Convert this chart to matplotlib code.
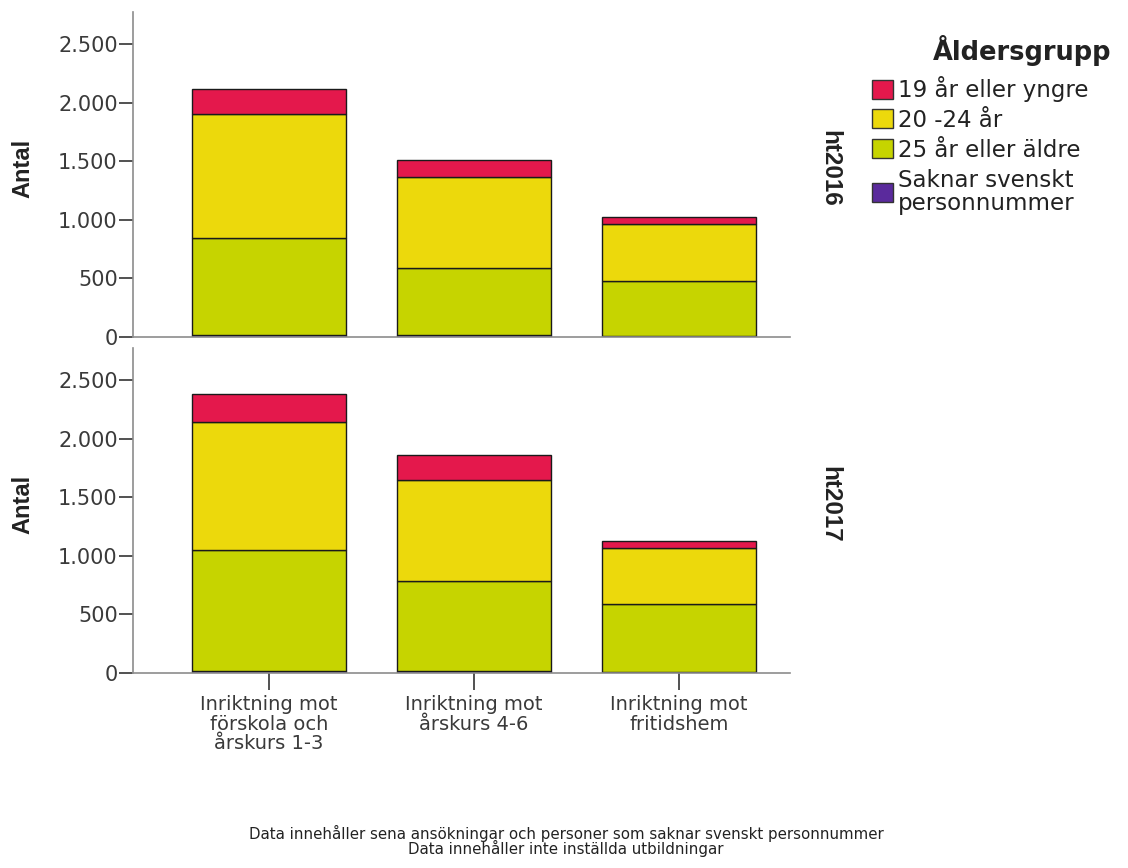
import matplotlib

matplotlib.use("Agg")
import matplotlib.pyplot as plt
import numpy as np
from matplotlib.patches import Patch
from matplotlib.ticker import FuncFormatter, MultipleLocator

plt.rcParams["font.family"] = ["DejaVu Sans"]

categories = [
    "Inriktning mot\nförskola och\nårskurs 1-3",
    "Inriktning mot\nårskurs 4-6",
    "Inriktning mot\nfritidshem",
]
years = ["ht2016", "ht2017"]
groups = ["19 år eller yngre", "20 -24 år", "25 år eller äldre", "Saknar svenskt\npersonnummer"]

# counts per year, stacked from the bottom: missing id, 25+, 20-24, <=19
saknar = {"ht2016": [20, 15, 5], "ht2017": [20, 15, 5]}
age_25_plus = {"ht2016": [825, 574, 473], "ht2017": [1029, 770, 584]}
age_20_24 = {"ht2016": [1058, 776, 486], "ht2017": [1093, 862, 478]}
age_19_under = {"ht2016": [213, 145, 60], "ht2017": [239, 213, 59]}

COLORS = {
    "19 år eller yngre": "#e4184c",
    "20 -24 år": "#ecd90c",
    "25 år eller äldre": "#c6d400",
    "Saknar svenskt\npersonnummer": "#5a2a9c",
}
AXIS_GRAY = "#8c8c8c"
TEXT = "#222222"
TICK_TEXT = "#3a3a3a"
BOLD_FONT = ["Liberation Sans", "DejaVu Sans"]


def thousands(v, _):
    return f"{int(v):,}".replace(",", ".")


fig = plt.figure(figsize=(11.28, 8.68), dpi=100)
fig.patch.set_facecolor("white")

# pixel layout of the reference: x axis 133..790, panels 12..337 and 348..673
left, width = 133 / 1128, (790 - 133) / 1128
panels = [
    fig.add_axes([left, 1 - 337 / 868, width, (337 - 12) / 868]),
    fig.add_axes([left, 1 - 673 / 868, width, (673 - 348) / 868]),
]

x = np.arange(len(categories))
for ax, yr in zip(panels, years):
    layers = [
        ("Saknar svenskt\npersonnummer", saknar[yr]),
        ("25 år eller äldre", age_25_plus[yr]),
        ("20 -24 år", age_20_24[yr]),
        ("19 år eller yngre", age_19_under[yr]),
    ]
    bottom = np.zeros(len(categories))
    for name, vals in layers:
        vals = np.array(vals, dtype=float)
        ax.bar(x, vals, 0.75, bottom=bottom, color=COLORS[name],
               edgecolor="#1a1a1a", linewidth=1.0)
        bottom += vals

    ax.set_xlim(-0.663, 2.541)
    ax.set_ylim(0, 2773)
    ax.yaxis.set_major_locator(MultipleLocator(500))
    ax.yaxis.set_major_formatter(FuncFormatter(thousands))
    for s in ("top", "right"):
        ax.spines[s].set_visible(False)
    for s in ("left", "bottom"):
        ax.spines[s].set_color(AXIS_GRAY)
        ax.spines[s].set_linewidth(1.2)
    ax.tick_params(axis="y", length=10, width=1.2, color="#333333",
                   labelsize=15, labelcolor=TICK_TEXT, pad=1)
    ax.set_ylabel("Antal", fontsize=17, fontweight="bold", color=TEXT, family=BOLD_FONT)
    ax.yaxis.set_label_coords(-0.15, 0.52)
    ax.text(1.043, 0.52, yr, transform=ax.transAxes, rotation=-90,
            ha="left", va="center", fontsize=17.5, fontweight="bold",
            color=TEXT, family=BOLD_FONT)

panels[0].set_xticks([])
panels[1].set_xticks(x)
panels[1].set_xticklabels(categories, fontsize=14, color=TICK_TEXT, linespacing=1.02)
panels[1].tick_params(axis="x", length=12, width=1.2, color="#333333", pad=4)

handles = [Patch(facecolor=COLORS[g], edgecolor="#333333", linewidth=1.0) for g in groups]
leg = fig.legend(handles, groups, loc="upper left", bbox_to_anchor=(872 / 1128, 1 - 76 / 868),
                 frameon=False, fontsize=16.5, handlelength=0.9, handleheight=0.9,
                 handletextpad=0.22, labelspacing=0.3, borderaxespad=0, borderpad=0)
for t in leg.get_texts():
    t.set_color(TEXT)
    t.set_linespacing(1.0)
fig.text(1022 / 1128, 1 - 50 / 868, "Åldersgrupp", ha="center", va="center",
         fontsize=18.5, fontweight="bold", color=TEXT)

fig.text(566 / 1128, 1 - 833 / 868,
         "Data innehåller sena ansökningar och personer som saknar svenskt personnummer",
         ha="center", va="center", fontsize=10.8, color=TEXT)
fig.text(566 / 1128, 1 - 848 / 868, "Data innehåller inte inställda utbildningar",
         ha="center", va="center", fontsize=10.8, color=TEXT)

fig.savefig("out.png", dpi=100, facecolor="white")
